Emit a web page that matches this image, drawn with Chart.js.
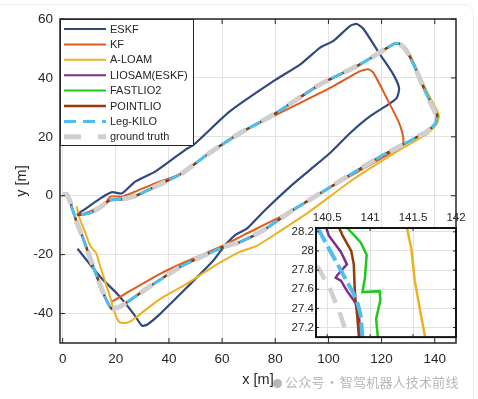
<!DOCTYPE html>
<html>
<head>
<meta charset="utf-8">
<script src="https://cdn.jsdelivr.net/npm/chart.js@4.4.1/dist/chart.umd.min.js"></script>
<style>
  html, body { margin: 0; padding: 0; background: #fff; }
  #wrap { position: relative; width: 478px; height: 399px; overflow: hidden; }
  #main { position: absolute; left: 0; top: 0; }
  #inset { position: absolute; left: 282px; top: 206px; }
  .card { position: absolute; left: -20px; top: 4px; width: 494px; height: 430px; border: 1px solid #ececec; border-radius: 10px; box-sizing: border-box; pointer-events: none; }
  .wm { position: absolute; left: 273px; top: 372px; font: 13px "Noto Sans CJK SC", sans-serif; color: rgba(170,170,170,0.85); white-space: nowrap; letter-spacing: 0.2px; }
  .wm i { display: inline-block; width: 9px; height: 9px; border-radius: 50%; background: rgba(170,170,170,0.85); margin-right: 3px; vertical-align: -1px; }
  .wm b { font-weight: normal; margin: 0 1px; }
</style>
</head>
<body>
<div id="wrap">
  <div class="card"></div>
  <canvas id="main" width="478" height="399"></canvas>
  <canvas id="inset" width="190" height="140"></canvas>
  <div class="wm"><i></i>公众号<b>·</b>智驾机器人技术前线</div>
</div>
<script>
// legend names, in plot order
const seriesNames = ["ESKF", "KF", "A-LOAM", "LIOSAM(ESKF)", "FASTLIO2", "POINTLIO", "Leg-KILO", "ground truth"];

// axis ticks
const xTicks = [0, 20, 40, 60, 80, 100, 120, 140];
const yTicks = [-40, -20, 0, 20, 40, 60];
const insetXTicks = [140.5, 141, 141.5, 142];
const insetXLabels = ["140.5", "141", "141.5", "142"];
const insetYTicks = [27.2, 27.4, 27.6, 27.8, 28, 28.2];
const insetYLabels = ["27.2", "27.4", "27.6", "27.8", "28", "28.2"];

// trajectories [x, y] in metres
const eskf = [[5.6,-18],[14.2,-27.6],[20.5,-33.3],[26.7,-40.1],[29.8,-44.1],[31.7,-43.8],[36.7,-40.1],[46.8,-31.1],[56.8,-21.9],[60.5,-17.5],[64.9,-13.4],[69.3,-11.2],[76,-5],[85.6,3.1],[93.1,8.8],[100.6,14.5],[108.2,21.3],[115.7,27],[122.6,31],[125.7,33.2],[126.6,36.5],[124.4,41.2],[119.4,48],[113.2,56.6],[110.7,58.3],[108.2,57.7],[101.9,52.6],[96.9,50.3],[89.4,44.6],[79.3,38.9],[63,28.7],[49.3,17.3],[46.1,15.6],[34.8,8.2],[27.3,4.8],[22.3,0.8],[18.6,1.2],[14.2,-0.9],[8,-4.8],[5,-6.5]];
const kf = [[18.6,-36],[25,-32.5],[36.7,-26.5],[46.1,-22.5],[59.2,-17.4],[69.3,-12.8],[81.8,-7.2],[96.9,0.8],[103.2,4.2],[115.7,10.5],[124,14.8],[127,16.2],[128.2,18],[127.8,21.3],[126.3,25.3],[121.9,33.2],[116.9,41.8],[115,42.9],[111.9,42.3],[101.9,37.2],[96.9,34.9],[89.4,31.5],[81.8,28.1],[66.8,21.3],[54.3,13.9],[44.9,7.6],[34.8,4.2],[27.3,1.4],[22.3,-0.3],[17.9,-0.3],[16,-2.6],[9.8,-5.5],[6.7,-6.6]];
const aloam = [[5.2,-3.5],[6.5,-8],[8.5,-12.5],[10.4,-17],[12.6,-19.5],[14.2,-24.2],[17.9,-34.5],[19.8,-40.3],[21.5,-43],[24.8,-43],[28,-41],[36.7,-35],[46.5,-30],[56.8,-24],[66.8,-19],[73,-17],[81.8,-12],[93,-5.3],[109.4,5.6],[125.7,15],[137.5,21.2],[140.8,24.5],[141.5,27.5],[137,35.5],[133,43.5],[129.8,49.3],[127,51.6],[125,51.8],[111.9,44.6],[96.9,37.8],[79.3,27.5],[66.8,21.3],[54.3,13.9],[44.9,7.6],[34.8,3.1],[27.3,-0.1],[22.3,-1.2],[17.9,-1.5],[13.5,-4.3],[9.8,-6],[4.8,-6.6]];
const liosam = [[3,-2.5],[4.2,-6],[5.5,-9.5],[7.5,-14],[9.5,-19],[12.5,-26.5],[16,-34.5],[18.5,-38.4],[22.3,-37.3],[32.3,-31.1],[44.2,-24.2],[50.5,-21.4],[60.5,-17.4],[66.8,-15.7],[75.6,-11.7],[85.6,-5.5],[96.9,0.8],[108,7],[120.7,13.9],[125.7,16.2],[137,21.8],[140.2,24.5],[140.8,27.2],[140.5,28.2],[136.4,35.5],[132.6,43.5],[129.5,49.1],[127,51.4],[125.1,51.7],[111.9,44.6],[96.9,37.8],[79.3,27.5],[66.8,21.3],[54.3,13.9],[44.9,7.6],[34.8,3.1],[27.3,-0.1],[22.3,-1.2],[17.9,-1.5],[13.5,-4.3],[9.8,-6],[4.8,-6.6]];
const fastlio = [[3,-2.5],[4.2,-6],[5.5,-9.5],[7.5,-14],[9.5,-19],[12.5,-26.5],[16,-34.5],[18.5,-38.4],[22.3,-37.3],[32.3,-31.1],[44.2,-24.2],[50.5,-21.4],[60.5,-17.4],[66.8,-15.7],[75.6,-11.7],[85.6,-5.5],[96.9,0.8],[108,7],[120.7,13.9],[125.7,16.2],[137,21.8],[140.3,24.5],[141.1,27.2],[140.7,28.2],[136.4,35.5],[132.6,43.5],[129.5,49.1],[127,51.4],[125.1,51.7],[111.9,44.6],[96.9,37.8],[79.3,27.5],[66.8,21.3],[54.3,13.9],[44.9,7.6],[34.8,3.1],[27.3,-0.1],[22.3,-1.2],[17.9,-1.5],[13.5,-4.3],[9.8,-6],[4.8,-6.6]];
const pointlio = [[3,-2.5],[4.2,-6],[5.5,-9.5],[7.5,-14],[9.5,-19],[12.5,-26.5],[16,-34.5],[18.5,-38.4],[22.3,-37.3],[32.3,-31.1],[44.2,-24.2],[50.5,-21.4],[60.5,-17.4],[66.8,-15.7],[75.6,-11.7],[85.6,-5.5],[96.9,0.8],[108,7],[120.7,13.9],[125.7,16.2],[137,21.8],[140.2,24.5],[140.9,27.2],[140.6,28.2],[136.4,35.5],[132.6,43.5],[129.5,49.1],[127,51.4],[125.1,51.7],[111.9,44.6],[96.9,37.8],[79.3,27.5],[66.8,21.3],[54.3,13.9],[44.9,7.6],[34.8,3.1],[27.3,-0.1],[22.3,-1.2],[17.9,-1.5],[13.5,-4.3],[9.8,-6],[4.8,-6.6]];
const legKilo = [[3,-3],[4.2,-6],[5.5,-9.5],[7.5,-14],[9.5,-19],[12.5,-26.5],[16,-34.5],[18.5,-38.4],[22.3,-37.3],[32.3,-31.1],[44.2,-24.2],[50.5,-21.4],[60.5,-17.4],[66.8,-15.7],[75.6,-11.7],[85.6,-5.5],[96.9,0.8],[108,7],[120.7,13.9],[125.7,16.2],[137,21.8],[140.2,24.5],[140.9,27.2],[140.4,28.2],[136.4,35.5],[132.6,43.5],[129.5,49.1],[127,51.4],[125.1,51.7],[111.9,44.6],[96.9,37.8],[79.3,27.5],[66.8,21.3],[54.3,13.9],[44.9,7.6],[34.8,3.1],[27.3,-0.1],[22.3,-1.2],[17.9,-1.5],[13.5,-4.3],[9.8,-6],[4.8,-6.6]];
const groundTruth = [[0,0.4],[1.6,0.4],[3,-2.5],[4.2,-6],[5.5,-9.5],[7.5,-14],[9.5,-19],[12.5,-26.5],[16,-34.5],[18.5,-38.4],[22.3,-37.3],[32.3,-31.1],[44.2,-24.2],[50.5,-21.4],[60.5,-17.4],[66.8,-15.7],[75.6,-11.7],[85.6,-5.5],[96.9,0.8],[108,7],[120.7,13.9],[125.7,16.2],[137,21.8],[140.2,24.5],[140.7,27.1],[140.4,27.8],[136.4,35.5],[132.6,43.5],[129.5,49.1],[127,51.4],[125.1,51.7],[111.9,44.6],[96.9,37.8],[79.3,27.5],[66.8,21.3],[54.3,13.9],[44.9,7.6],[34.8,3.1],[27.3,-0.1],[22.3,-1.2],[17.9,-1.5],[13.5,-4.3],[9.8,-6],[4.8,-6.6]];

// zoomed corner (inset)
const aloamZoom = [[141.43,28.24],[141.48,28.02],[141.52,27.69],[141.58,27.39],[141.64,27.1]];
const liosamZoom = [[140.49,28.24],[140.52,28.16],[140.66,27.99],[140.73,27.86],[140.62,27.75],[140.6,27.72],[140.66,27.69],[140.74,27.57],[140.83,27.46],[140.87,27.32],[140.89,27.1]];
const fastlioZoom = [[140.735,28.24],[140.89,28.09],[140.96,27.96],[140.94,27.72],[140.91,27.57],[141.11,27.58],[141.12,27.49],[141.07,27.29],[141.09,27.1]];
const pointlioZoom = [[140.64,28.24],[140.68,28.16],[140.78,28.0],[140.81,27.86],[140.82,27.62],[140.83,27.49],[140.85,27.32],[140.87,27.1]];
const legKiloZoom = [[140.39,28.24],[140.56,27.96],[140.72,27.7],[140.84,27.5],[140.89,27.33],[140.91,27.1]];
const gtZoom = [[140.37,27.84],[140.4,27.82],[140.54,27.59],[140.66,27.32],[140.74,27.1]];

const mainPaths = [eskf, kf, aloam, liosam, fastlio, pointlio, legKilo, groundTruth];
const zoomPaths = [null, null, aloamZoom, liosamZoom, fastlioZoom, pointlioZoom, legKiloZoom, gtZoom];

const styles = [
  { color: "#314a7d", width: 2.2 },
  { color: "#e05a1d", width: 2 },
  { color: "#edb120", width: 2 },
  { color: "#7e2f8e", width: 2 },
  { color: "#1ec81e", width: 2 },
  { color: "#963a0c", width: 2.4 },
  { color: "#4dbeee", width: 3, dash: [12, 4], dashOffset: -1.5, legendDash: [12, 7], zoomWidth: 4, zoomDash: [16, 5] },
  { color: "#cfcfcf", width: 5, dash: [15, 17], legendDash: [17, 17], zoomWidth: 4.5, zoomDash: [16, 10] }
];

const FONT = '"Liberation Sans", Arial, sans-serif';
const INK = "#262626";

const toPts = arr => arr.map(([x, y]) => ({ x, y }));

function inwardTicks(ctx, a, xs, ys, xScale, yScale, len) {
  ctx.beginPath();
  xs.forEach(v => {
    const px = xScale.getPixelForValue(v);
    ctx.moveTo(px, a.bottom); ctx.lineTo(px, a.bottom - len);
    ctx.moveTo(px, a.top); ctx.lineTo(px, a.top + len);
  });
  ys.forEach(v => {
    const py = yScale.getPixelForValue(v);
    ctx.moveTo(a.left, py); ctx.lineTo(a.left + len, py);
    ctx.moveTo(a.right, py); ctx.lineTo(a.right - len, py);
  });
  ctx.stroke();
}

const mainDecor = {
  id: "mainDecor",
  afterDatasetsDraw(chart) {
    const { ctx, chartArea: a, scales: { x, y } } = chart;
    ctx.save();
    ctx.strokeStyle = INK;
    ctx.lineWidth = 1;
    inwardTicks(ctx, a, xTicks, yTicks, x, y, 5);
    ctx.lineWidth = 1.5;
    ctx.strokeRect(a.left, a.top, a.right - a.left, a.bottom - a.top);

    // legend box, top-left inside the axes
    const lx = a.left, ly = a.top, lw = 134, lh = 127;
    ctx.fillStyle = "#fff";
    ctx.fillRect(lx, ly, lw, lh);
    ctx.lineWidth = 1;
    ctx.strokeStyle = INK;
    ctx.strokeRect(lx + 0.5, ly + 0.5, lw - 1, lh - 1);
    ctx.font = "11px " + FONT;
    ctx.textBaseline = "middle";
    seriesNames.forEach((name, i) => {
      const s = styles[i];
      const ry = ly + 10 + i * 15.4;
      ctx.beginPath();
      ctx.strokeStyle = s.color;
      ctx.lineWidth = s.width;
      ctx.setLineDash(s.legendDash || []);
      ctx.moveTo(lx + 4, ry);
      ctx.lineTo(lx + 46, ry);
      ctx.stroke();
      ctx.setLineDash([]);
      ctx.fillStyle = INK;
      ctx.fillText(name, lx + 50, ry + 0.5);
    });

    // axis titles
    ctx.font = "14.5px " + FONT;
    ctx.textAlign = "center";
    ctx.fillText("x [m]", (a.left + a.right) / 2, 380);
    ctx.translate(22, (a.top + a.bottom) / 2);
    ctx.rotate(-Math.PI / 2);
    ctx.fillText("y [m]", 0, 0);
    ctx.restore();
  }
};

const insetDecor = {
  id: "insetDecor",
  beforeDraw(chart) {
    const { ctx, chartArea: a } = chart;
    ctx.save();
    ctx.fillStyle = "#fff";
    ctx.fillRect(a.left, a.top, a.right - a.left, a.bottom - a.top);
    ctx.restore();
  },
  afterDatasetsDraw(chart) {
    const { ctx, chartArea: a, scales: { x, y } } = chart;
    ctx.save();
    ctx.strokeStyle = INK;
    ctx.lineWidth = 1;
    inwardTicks(ctx, a, insetXTicks, insetYTicks, x, y, 3);
    ctx.strokeStyle = "#151515";
    ctx.lineWidth = 2;
    ctx.strokeRect(a.left, a.top, a.right - a.left, a.bottom - a.top);
    ctx.restore();
  }
};

function axis(min, max, ticks, labels, font, pad, extra) {
  return Object.assign({
    type: "linear",
    min: min,
    max: max,
    afterBuildTicks: s => { s.ticks = ticks.map(v => ({ value: v })); },
    grid: { color: "#e2e2e2", lineWidth: 1, drawTicks: false },
    border: { display: false },
    ticks: {
      color: INK,
      font: { family: FONT, size: font },
      padding: pad,
      maxRotation: 0,
      autoSkip: false,
      callback: (v, i) => (labels ? labels[i] : String(v))
    }
  }, extra);
}

// main plot
const mainDatasets = mainPaths.map((p, i) => ({
  label: seriesNames[i],
  data: toPts(p),
  showLine: true,
  pointRadius: 0,
  borderColor: styles[i].color,
  borderWidth: styles[i].width,
  borderDash: styles[i].dash || [],
  borderDashOffset: styles[i].dashOffset || 0,
  tension: 0.2,
  fill: false,
  order: 7 - i
}));

new Chart(document.getElementById("main"), {
  type: "scatter",
  data: { datasets: mainDatasets },
  options: {
    responsive: false,
    animation: false,
    devicePixelRatio: 1,
    layout: { padding: { top: 19, right: 22, left: 0, bottom: 0 } },
    plugins: { legend: { display: false }, tooltip: { enabled: false } },
    scales: {
      x: axis(-1, 148, xTicks, null, 13.5, 8, { afterFit: s => { s.height = 56; } }),
      y: axis(-50, 60, yTicks, null, 13.5, 7, { afterFit: s => { s.width = 60; } })
    }
  },
  plugins: [mainDecor]
});

// inset: zoom on the right-hand corner
const insetDatasets = [];
zoomPaths.forEach((p, i) => {
  if (!p) return;
  insetDatasets.push({
    label: seriesNames[i],
    data: toPts(p),
    showLine: true,
    pointRadius: 0,
    borderColor: styles[i].color,
    borderWidth: styles[i].zoomWidth || 2.5,
    borderDash: styles[i].zoomDash || [],
    tension: 0,
    fill: false,
    order: 7 - i
  });
});

new Chart(document.getElementById("inset"), {
  type: "scatter",
  data: { datasets: insetDatasets },
  options: {
    responsive: false,
    animation: false,
    devicePixelRatio: 1,
    layout: { padding: { top: 0, right: 16, left: 0, bottom: 4 } },
    plugins: { legend: { display: false }, tooltip: { enabled: false } },
    scales: {
      x: axis(140.37, 142, insetXTicks, insetXLabels, 11.5, 3, {
        position: "top",
        afterFit: s => { s.height = 22; }
      }),
      y: axis(27.1, 28.24, insetYTicks, insetYLabels, 11.5, 2, {
        afterFit: s => { s.width = 34; }
      })
    }
  },
  plugins: [insetDecor]
});
</script>
</body>
</html>
